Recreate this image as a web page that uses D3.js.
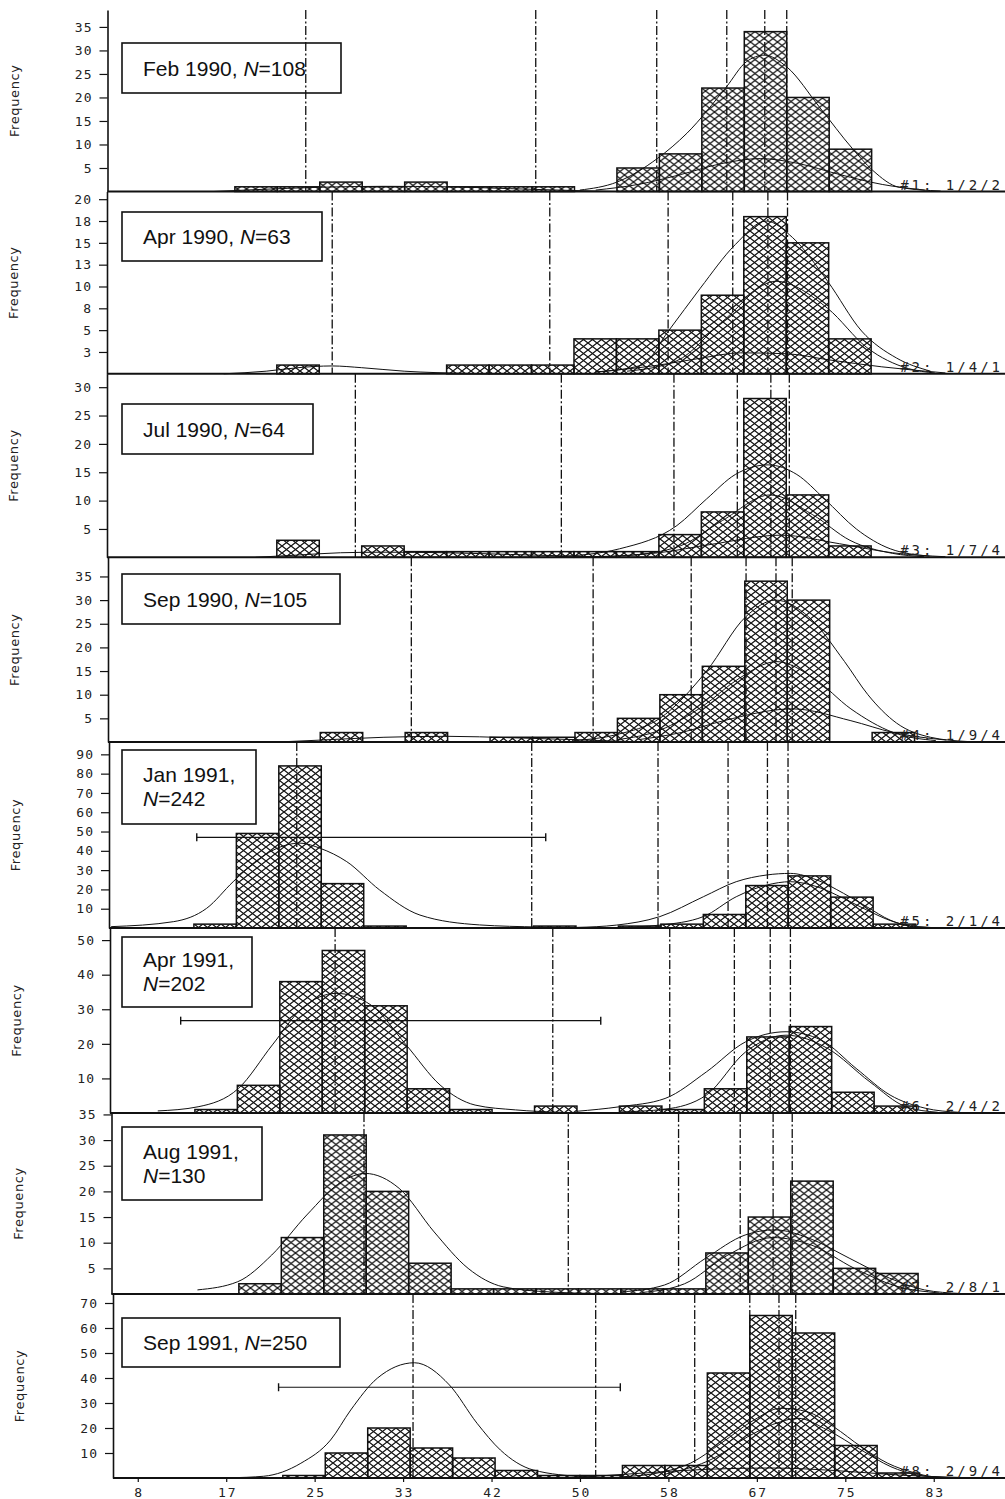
<!DOCTYPE html>
<html><head><meta charset="utf-8">
<script src="https://cdn.jsdelivr.net/npm/d3@7"></script>
<style>body{margin:0;background:#fff}</style>
</head><body>
<svg id="c" width="1005" height="1499"></svg>
<script>
// ---------------- DATA ----------------
const binStarts = [10,14,18,22,26,30,34,38,42,46,50,54,58,62,66,70,74,78,82];
const binWidth = 4;
const panelDates = ["Feb 1990","Apr 1990","Jul 1990","Sep 1990","Jan 1991","Apr 1991","Aug 1991","Sep 1991"];
const panelN = [108,63,64,105,242,202,130,250];
const panelCodes = ["#1: 1/2/2","#2: 1/4/1","#3: 1/7/4","#4: 1/9/4","#5: 2/1/4","#6: 2/4/2","#7: 2/8/1","#8: 2/9/4"];
const yMax = [38.6,20.88,32.36,39.05,96.4,53.5,35.28,73.6];
const yTicks = [
  [5,10,15,20,25,30,35],
  [2.5,5,7.5,10,12.5,15,17.5,20],
  [5,10,15,20,25,30],
  [5,10,15,20,25,30,35],
  [10,20,30,40,50,60,70,80,90],
  [10,20,30,40,50],
  [5,10,15,20,25,30,35],
  [10,20,30,40,50,60,70]
];
const yTickLabels = [
  ["5","10","15","20","25","30","35"],
  ["3","5","8","10","13","15","18","20"],
  ["5","10","15","20","25","30"],
  ["5","10","15","20","25","30","35"],
  ["10","20","30","40","50","60","70","80","90"],
  ["10","20","30","40","50"],
  ["5","10","15","20","25","30","35"],
  ["10","20","30","40","50","60","70"]
];
const xTickValues = [8.333,16.667,25,33.333,41.667,50,58.333,66.667,75,83.333];
const xTickLabels = ["8","17","25","33","42","50","58","67","75","83"];

// histogram counts per bin (bins start at binStarts)
const countsP1 = [0,0,1,1,2,1,2,1,1,1,0,5,8,22,34,20,9,0,0];
const countsP2 = [0,0,0,1,0,0,0,1,1,1,4,4,5,9,18,15,4,0,0];
const countsP3 = [0,0,0,3,0,2,1,1,1,1,1,1,4,8,28,11,2,0,0];
const countsP4 = [0,0,0,0,2,0,2,0,1,1,2,5,10,16,34,30,0,2,0];
const countsP5 = [0,2,49,84,23,1,0,0,0,1,0,1,2,7,22,27,16,2,0];
const countsP6 = [0,1,8,38,47,31,7,1,0,2,0,2,1,7,22,25,6,2,0];
const countsP7 = [0,0,2,11,31,20,6,1,1,1,1,1,1,8,15,22,5,4,0];
const countsP8 = [0,0,0,1,10,20,12,8,3,1,1,5,5,42,65,58,13,2,0];

// vertical dash-dot reference lines
const linesP1 = [24.68,46.35,57.75,64.35,67.93,70.0];
const linesP2 = [27.22,47.72,58.87,64.96,68.27,70.12];
const linesP3 = [29.4,48.81,59.42,65.39,68.55,70.29];
const linesP4 = [34.58,51.71,60.95,66.12,68.94,70.47];
const linesP5 = [23.69,45.83,57.73,64.33,68.04,69.98];
const linesP6 = [27.21,47.72,58.74,64.83,68.21,70.11];
const linesP7 = [29.79,49.04,59.43,65.24,68.34,70.14];
const linesP8 = [34.27,51.48,60.81,66.0,68.75,70.33];

// fitted curves, points [value, frequency]
const curvesP1 = [
  [[50.5,0.3],[54,2],[57.8,7],[60.6,12.4],[64.3,22.2],[66.2,27.6],[67.9,29],[70,26.5],[73.1,17.9],[76.2,9.1],[78.1,4.5],[80.6,0.9],[84.5,0.1]],
  [[52,0.3],[56,1.5],[60,3.6],[64,6],[67.5,7],[71,6],[75,3.6],[79,1.5],[83,0.3]],
  [[16,0],[20,0.4],[26,0.9],[32,1.1],[38,1],[44,0.6],[50,0.2],[54,0]]
];
const curvesP2 = [
  [[52,0.2],[56.4,1.0],[58.9,4.9],[61.9,9.8],[65.2,14.8],[68.1,17.5],[70.6,15.6],[73.9,10.6],[77.1,4.9],[80.4,1.8],[83.6,0.3]],
  [[55,0.3],[59.7,1.5],[64,6],[69,10.6],[73.9,7.5],[77.6,3],[81.5,0.6],[84,0.1]],
  [[52,0.2],[58,1],[62,1.8],[65.7,2.4],[70,2.3],[74,1.6],[79,0.8],[85,0.1]],
  [[17,0],[21,0.3],[24,0.7],[27.2,0.9],[30,0.7],[34,0.3],[40,0.05]]
];
const curvesP3 = [
  [[48.5,0.1],[54.3,1.5],[59.7,5.6],[62.5,10.3],[65.2,14.6],[68.3,16.3],[71,14.6],[73.6,10.3],[76.6,5.0],[79.8,1.5],[83.5,0.2]],
  [[55,0.3],[60,2],[64,6.5],[68.5,11],[72.5,7.5],[76,3],[80,0.7],[83,0.1]],
  [[52,0.1],[58,0.8],[63,2.3],[69.5,3.9],[75,2.4],[80,0.8],[85,0.1]],
  [[20,0],[24,0.4],[28,0.8],[32,0.9],[38,0.8],[44,0.5],[50,0.2],[54,0]]
];
const curvesP4 = [
  [[50,0.3],[54,1.6],[58,5],[62.4,15],[66.1,26.5],[68.9,30],[72,26.5],[75.4,17],[77.6,10],[80.3,4],[83.5,1],[87,0.1]],
  [[54,0.5],[58,2.5],[62,7.5],[65.5,13.5],[69,17],[72.5,13.5],[76,7],[80,2],[84,0.3]],
  [[56,0.5],[60,2],[64,4.5],[70.5,7],[76,4.5],[80,2],[85,0.4]],
  [[22,0],[26,0.4],[32,1],[38,1.2],[44,0.9],[50,0.5],[55,0.1]]
];
const curvesP5 = [
  [[6.2,0.7],[12.1,3.3],[15.2,10.2],[17.7,24],[20.2,36.1],[22.7,43],[24,44],[25.9,41.3],[28.4,34.4],[31.5,19.7],[35.3,6.7],[40.9,1.6],[46.6,0.5],[52,0.1]],
  [[50,0.3],[53.8,1.5],[57.9,5.9],[62,16.2],[65.1,24],[68,27.5],[70.2,28.3],[72.7,24.9],[75.2,18],[77.4,11],[79.6,4.1],[81.8,0.7],[85,0]],
  [[54,0.3],[57.9,1.5],[62,5.9],[65.1,16.2],[68,22.3],[70.2,24],[72.7,21.4],[75.2,15.4],[77.4,9.3],[79.9,3.3],[82.1,0.7],[85,0]]
];
const curvesP6 = [
  [[10.5,0.6],[14.3,1.8],[18.1,7.1],[21.3,19.7],[24.1,30.3],[27.3,34.6],[30.6,31.2],[33.9,19.7],[37.1,8.1],[40.4,2.3],[44.2,0.9],[48.5,0.2]],
  [[50,0.5],[54,1.8],[58.3,4.2],[62.2,11.9],[65.9,20.6],[69.7,23.5],[73,21.1],[76.3,12.9],[79.5,5.2],[82.8,1.4],[86,0.2]],
  [[54,0.3],[58.3,1.1],[62.2,5.2],[65.9,17.7],[69.7,22.5],[73.6,18.7],[77.6,9],[81,1.8],[84,0.2]]
];
const curvesP7 = [
  [[14.1,0.8],[17.9,2.4],[21.1,7.6],[24.4,15.4],[27.7,21.9],[29.9,23.5],[33.1,20.6],[36.4,12.1],[39.6,5],[42.9,1.4],[47.3,0.4],[52,0.1]],
  [[54,0.4],[58.1,1.75],[62,7],[65.7,11.5],[68.5,12.5],[71.7,10.9],[75.5,7],[79.3,3.1],[82.6,0.8],[86,0.1]],
  [[56,0.3],[60,2],[64,7.5],[68.3,11],[72,9.5],[76,5],[80,1.5],[84,0.2]]
];
const curvesP8 = [
  [[17,0.1],[20.2,0.7],[23.7,5.9],[26.5,15.2],[28.4,27.2],[30.9,39.9],[34.4,46.1],[37.7,37.2],[40.3,21.9],[42.5,11.2],[45.6,3.2],[50.4,0.5],[54,0]],
  [[54,0.5],[57.9,2.5],[60.4,5.9],[63.3,13.9],[66.4,23.2],[68.9,27.9],[71.4,26.5],[73.9,20.5],[76.5,12.5],[79,5.9],[81.5,2.1],[83.3,0.5],[86,0]],
  [[58,1.5],[62.6,7.9],[65.8,16.5],[68.9,22.5],[70.5,23.9],[73.3,19.2],[76.5,11.2],[79.3,4.5],[81.8,1.2],[85,0]],
  [[50,0.3],[56,2],[62,3.5],[68,4],[74,3],[80,1.2],[86,0.2]]
];

// horizontal range bars (panel index, frequency level, low, high)
const errPanels = [4,5,7];
const errY = [47,26.7,36.3];
const errLo = [14.27,12.66,21.6];
const errHi = [47.15,52.24,53.8];

const counts = [countsP1,countsP2,countsP3,countsP4,countsP5,countsP6,countsP7,countsP8];
const vlines = [linesP1,linesP2,linesP3,linesP4,linesP5,linesP6,linesP7,linesP8];
const curves = [curvesP1,curvesP2,curvesP3,curvesP4,curvesP5,curvesP6,curvesP7,curvesP8];

// ---------------- LAYOUT ----------------
const panelTop  = [10,191.5,373.8,557.3,742,928,1113,1294];
const panelBase = [191.5,373.8,557.3,742,928,1113,1294,1478];
const skew = [-5.5,-6,-6,-5,-4,-3,-1.5,0];
const boxW = [219,200,191,218,134,130,140,218];
const boxY = [43,212,404,574,750,937,1127,1318];
const boxH = [50,49,50,50,74,70,73,49];
const twoLine = [false,false,false,false,true,true,true,false];
const INK = "#111";

const svg = d3.select("#c");
const defs = svg.append("defs");
defs.append("pattern").attr("id","hatch").attr("patternUnits","userSpaceOnUse")
  .attr("width",9).attr("height",7)
  .append("path").attr("d","M-0.5,-0.39L9.5,7.39M-0.5,7.39L9.5,-0.39")
  .attr("stroke",INK).attr("stroke-width",1.25).attr("fill","none");

const x = d3.scaleLinear().domain([6,90]).range([113,1004.5]);

for (let i = 0; i < 8; i++) {
  const top = panelTop[i], base = panelBase[i];
  const y = d3.scaleLinear().domain([0, yMax[i]]).range([base, top]);
  const g = svg.append("g").attr("transform", `translate(${skew[i]},0)`);

  // bars
  const bars = counts[i].map((c, j) => ({s: binStarts[j], c})).filter(d => d.c > 0);
  g.selectAll("rect.bar").data(bars).join("rect").attr("class","bar")
    .attr("x", d => x(d.s)).attr("width", d => x(d.s + binWidth) - x(d.s))
    .attr("y", d => y(d.c)).attr("height", d => base - y(d.c))
    .attr("fill","url(#hatch)").attr("stroke",INK).attr("stroke-width",1.5);

  // curves
  const line = d3.line().x(d => x(d[0])).y(d => y(Math.max(0,d[1]))).curve(d3.curveMonotoneX);
  g.selectAll("path.curve").data(curves[i]).join("path").attr("class","curve")
    .attr("d", line).attr("fill","none").attr("stroke",INK).attr("stroke-width",1);

  // dash-dot reference lines
  g.selectAll("line.ref").data(vlines[i]).join("line").attr("class","ref")
    .attr("x1", d => x(d)).attr("x2", d => x(d)).attr("y1", top).attr("y2", base)
    .attr("stroke",INK).attr("stroke-width",1.3).attr("stroke-dasharray","9,2.5,2,2.5");

  // range bar
  const k = errPanels.indexOf(i);
  if (k >= 0) {
    const ey = y(errY[k]);
    g.append("line").attr("x1", x(errLo[k])).attr("x2", x(errHi[k])).attr("y1", ey).attr("y2", ey)
      .attr("stroke",INK).attr("stroke-width",1.2);
    [errLo[k], errHi[k]].forEach(v => g.append("line").attr("x1", x(v)).attr("x2", x(v))
      .attr("y1", ey - 4).attr("y2", ey + 4).attr("stroke",INK).attr("stroke-width",1.4));
  }

  // baseline
  g.append("line").attr("x1", x(6)).attr("x2", 1005 - skew[i]).attr("y1", base).attr("y2", base)
    .attr("stroke",INK).attr("stroke-width",2);

  // left axis
  const ax = d3.axisLeft(y).tickValues(yTicks[i]).tickFormat((d, n) => yTickLabels[i][n])
    .tickSize(8).tickPadding(7).tickSizeOuter(0);
  const ag = g.append("g").attr("transform", `translate(${x(6)},0)`).call(ax);
  ag.select(".domain").attr("stroke",INK).attr("stroke-width",1.6);
  ag.selectAll(".tick line").attr("stroke",INK).attr("stroke-width",1.2);
  ag.selectAll(".tick text").attr("font-family","DejaVu Sans Mono").attr("font-size",13)
    .attr("letter-spacing",1).attr("fill","#222");

  // Frequency label
  g.append("text").attr("transform", `translate(24,${(top + base) / 2}) rotate(-90)`)
    .attr("text-anchor","middle").attr("font-family","DejaVu Sans").attr("font-size",13)
    .attr("letter-spacing",0.6).attr("fill","#222").text("Frequency");

  // code at lower right
  g.append("text").attr("x", 1003 - skew[i]).attr("y", base - 2).attr("text-anchor","end")
    .attr("font-family","DejaVu Sans Mono").attr("font-size",14).attr("letter-spacing",3)
    .attr("fill","#222").text(panelCodes[i]);

  // label box
  svg.append("rect").attr("x",122).attr("y",boxY[i]).attr("width",boxW[i]).attr("height",boxH[i])
    .attr("fill","none").attr("stroke",INK).attr("stroke-width",1.6);
  const cy = boxY[i] + boxH[i] / 2;
  const t = svg.append("text").attr("font-family","Liberation Sans, Arial, sans-serif")
    .attr("font-size",21).attr("fill",INK);
  if (!twoLine[i]) {
    t.attr("x",143).attr("y", cy + 7.5);
    t.append("tspan").text(panelDates[i] + ", ");
    t.append("tspan").attr("font-style","italic").text("N");
    t.append("tspan").text("=" + panelN[i]);
  } else {
    t.append("tspan").attr("x",143).attr("y", cy - 5).text(panelDates[i] + ",");
    t.append("tspan").attr("x",143).attr("y", cy + 19).attr("font-style","italic").text("N");
    t.append("tspan").text("=" + panelN[i]);
  }
}

// bottom axis
const bx = d3.axisBottom(x).tickValues(xTickValues).tickFormat((d, n) => xTickLabels[n])
  .tickSize(4).tickPadding(6).tickSizeOuter(0);
const bg = svg.append("g").attr("transform", `translate(0,${panelBase[7]})`).call(bx);
bg.select(".domain").remove();
bg.selectAll(".tick line").attr("stroke",INK).attr("stroke-width",1.2);
bg.selectAll(".tick text").attr("font-family","DejaVu Sans Mono").attr("font-size",13)
  .attr("letter-spacing",2).attr("dx",1).attr("fill","#222");
</script>
</body></html>
